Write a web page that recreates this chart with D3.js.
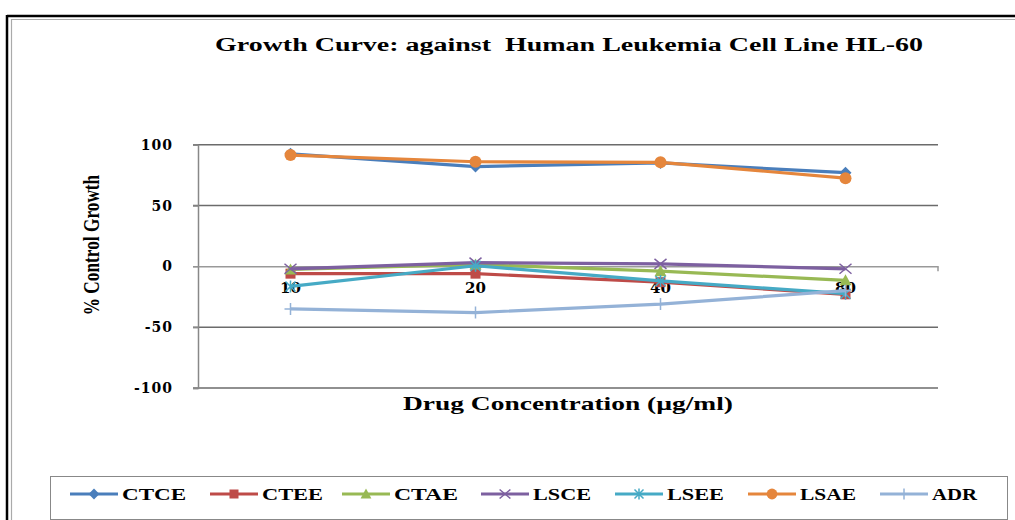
<!DOCTYPE html>
<html><head><meta charset="utf-8">
<script src="https://cdn.jsdelivr.net/npm/d3@7"></script>
<style>body{margin:0;background:#fff}svg{display:block}</style>
</head><body><svg id="c" width="1015" height="520"></svg>
<script>
const categories = ["10","20","40","80"];
const seriesNames = ["CTCE","CTEE","CTAE","LSCE","LSEE","LSAE","ADR"];
const CTCE = [92.5, 82, 85, 77];
const CTEE = [-6, -6, -13, -23];
const CTAE = [-2.5, 1.5, -4, -11.5];
const LSCE = [-2, 3, 2, -2];
const LSEE = [-16.5, 0.5, -12, -22.5];
const LSAE = [91.5, 86, 85.5, 72.5];
const ADR = [-35, -38, -31, -20];
const yTicks = [-100, -50, 0, 50, 100];
const seriesValues = [CTCE, CTEE, CTAE, LSCE, LSEE, LSAE, ADR];
const colors = ["#4A7EBB","#BE4B48","#98B954","#7D60A0","#46AAC5","#E5863C","#94B2D7"];
const markers = ["diamond","square","triangle","x","star","circle","plus"];

const svg = d3.select("#c");
// frame
svg.append("line").attr("x1",7).attr("x2",1015).attr("y1",16).attr("y2",16).attr("stroke","#000").attr("stroke-width",2.5);
svg.append("line").attr("x1",7).attr("x2",7).attr("y1",15).attr("y2",520).attr("stroke","#000").attr("stroke-width",2.5);
svg.append("line").attr("x1",12).attr("x2",1015).attr("y1",19.5).attr("y2",19.5).attr("stroke","#aaa").attr("stroke-width",1.2);
svg.append("line").attr("x1",11.5).attr("x2",11.5).attr("y1",19).attr("y2",520).attr("stroke","#aaa").attr("stroke-width",1.2);

const x = d3.scaleBand().domain(categories).range([198, 938]);
const y = d3.scaleLinear().domain([-100, 100]).range([388, 144.7]);
const cx = d => x(d) + x.bandwidth()/2;

// title
svg.append("text").attr("x",569).attr("y",51).attr("text-anchor","middle").style("white-space","pre")
  .attr("font-family","Liberation Serif").attr("font-weight","bold").attr("font-size",18)
  .attr("textLength",708).attr("lengthAdjust","spacingAndGlyphs")
  .text("Growth Curve: against  Human Leukemia Cell Line HL-60");

// gridlines
svg.append("g").selectAll("line").data(yTicks.filter(t=>t!==0)).join("line")
  .attr("x1",193).attr("x2",938).attr("y1",d=>y(d)).attr("y2",d=>y(d))
  .attr("stroke","#6b6b6b").attr("stroke-width",1.5);
// y axis
const yAxis = svg.append("g").attr("transform","translate(198,0)")
  .call(d3.axisLeft(y).tickValues(yTicks).tickSize(5).tickPadding(20).tickFormat(d => String(d)));
yAxis.select(".domain").attr("stroke","#888").attr("stroke-width",1.5);
yAxis.selectAll(".tick line").attr("stroke","#888").attr("stroke-width",1.5);
yAxis.selectAll("text").attr("font-family","DejaVu Serif").attr("font-weight","bold").attr("font-size",14).attr("letter-spacing",1).attr("fill","#000");
// x axis at zero
const xAxis = svg.append("g").attr("transform",`translate(0,${y(0)})`)
  .call(d3.axisBottom(x).tickSize(0).tickPadding(16));
xAxis.select(".domain").attr("stroke","#999").attr("stroke-width",1.5);
xAxis.selectAll("text").attr("font-family","DejaVu Serif").attr("font-weight","bold").attr("font-size",15).attr("fill","#000");
svg.append("g").selectAll("line").data([938]).join("line")
  .attr("x1",d=>d).attr("x2",d=>d).attr("y1",y(0)).attr("y2",y(0)+5).attr("stroke","#999").attr("stroke-width",1.5);

// axis titles
svg.append("text").attr("transform",`translate(99,245) rotate(-90) scale(0.72,1)`).attr("text-anchor","middle")
  .attr("font-family","Liberation Serif").attr("font-weight","bold").attr("font-size",24)
  .text("% Control Growth");
svg.append("text").attr("x",568).attr("y",410).attr("text-anchor","middle")
  .attr("font-family","Liberation Serif").attr("font-weight","bold").attr("font-size",19)
  .attr("textLength",330).attr("lengthAdjust","spacingAndGlyphs").text("Drug Concentration (µg/ml)");

function drawMarker(g, type, color, px, py, s) {
  s = s || 1;
  if (type === "diamond") g.append("path").attr("d",`M${px},${py-6*s}L${px+6*s},${py}L${px},${py+6*s}L${px-6*s},${py}Z`).attr("fill",color);
  else if (type === "square") g.append("rect").attr("x",px-5*s).attr("y",py-5*s).attr("width",10*s).attr("height",10*s).attr("fill",color);
  else if (type === "triangle") g.append("path").attr("d",`M${px},${py-6*s}L${px+6*s},${py+5*s}L${px-6*s},${py+5*s}Z`).attr("fill",color);
  else if (type === "circle") g.append("circle").attr("cx",px).attr("cy",py).attr("r",6*s).attr("fill",color);
  else if (type === "x") g.append("path").attr("d",`M${px-6*s},${py-5*s}L${px+6*s},${py+5*s}M${px-6*s},${py+5*s}L${px+6*s},${py-5*s}`).attr("stroke",color).attr("stroke-width",1.5);
  else if (type === "star") g.append("path").attr("d",`M${px-5*s},${py-5*s}L${px+5*s},${py+5*s}M${px-5*s},${py+5*s}L${px+5*s},${py-5*s}M${px},${py-6*s}L${px},${py+6*s}`).attr("stroke",color).attr("stroke-width",1.5);
  else if (type === "plus") g.append("path").attr("d",`M${px-6*s},${py}L${px+6*s},${py}M${px},${py-6*s}L${px},${py+6*s}`).attr("stroke",color).attr("stroke-width",1.5);
}

const line = d3.line().x((d,i)=>cx(categories[i])).y(d=>y(d));
const plot = svg.append("g");
seriesValues.forEach((vals, k) => {
  const g = plot.append("g");
  g.append("path").datum(vals).attr("d",line).attr("fill","none").attr("stroke",colors[k]).attr("stroke-width",3.2);
  vals.forEach((v,i)=>drawMarker(g, markers[k], colors[k], cx(categories[i]), y(v)));
});

// legend
svg.append("rect").attr("x",50.5).attr("y",476.5).attr("width",957).attr("height",43).attr("fill","none").attr("stroke","#888").attr("stroke-width",1);
const legTextX = [122, 262, 394, 533, 667, 800, 932];
const legTextW = [64, 61, 64, 58, 57, 56, 45];
seriesNames.forEach((n,k)=>{
  const g = svg.append("g");
  const ly = 494;
  const lx = legTextX[k] - 52;
  g.append("line").attr("x1",lx).attr("x2",lx+48).attr("y1",ly).attr("y2",ly).attr("stroke",colors[k]).attr("stroke-width",3);
  drawMarker(g, markers[k], colors[k], lx+24, ly, 0.9);
  g.append("text").attr("x",legTextX[k]).attr("y",ly+5.5).attr("font-family","Liberation Serif").attr("font-weight","bold").attr("font-size",16)
    .attr("textLength",legTextW[k]).attr("lengthAdjust","spacingAndGlyphs").text(n);
});
</script></body></html>
